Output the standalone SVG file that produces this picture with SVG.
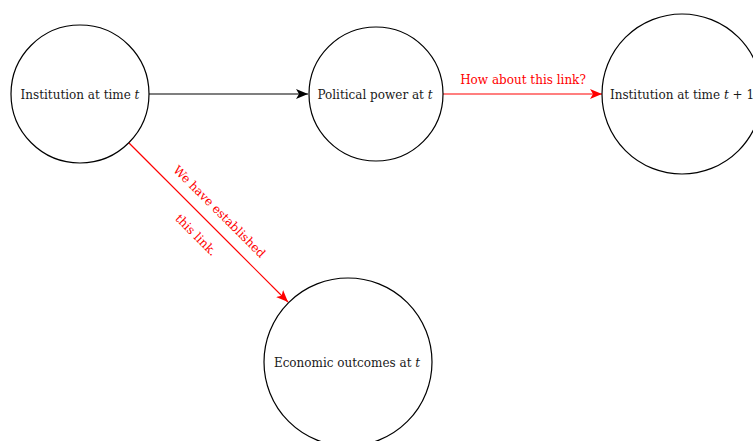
<svg xmlns="http://www.w3.org/2000/svg" width="753" height="441" viewBox="0 0 753 441">
<defs>
<marker id="ahk" viewBox="0 0 12 10" refX="12" refY="5" markerWidth="12" markerHeight="10" markerUnits="userSpaceOnUse" orient="auto">
<path d="M0,0 L12,5 L0,10 L3,5 Z" fill="#000"/>
</marker>
<marker id="ahr" viewBox="0 0 12 10" refX="12" refY="5" markerWidth="12" markerHeight="10" markerUnits="userSpaceOnUse" orient="auto">
<path d="M0,0 L12,5 L0,10 L3,5 Z" fill="#ff0000"/>
</marker>
</defs>
<style>
.node{fill:#fff;stroke:#000;stroke-width:1.2}
.lbl{font-family:"DejaVu Serif","Liberation Serif",serif;font-size:12px;fill:#1a1a1a;text-anchor:middle}
.red{font-family:"DejaVu Serif","Liberation Serif",serif;font-size:12px;fill:#ff0000;text-anchor:middle}
.it{font-style:italic}
.ek{stroke:#000;stroke-width:1.2;fill:none}
.er{stroke:#ff0000;stroke-width:1.2;fill:none}
</style>
<rect width="753" height="441" fill="#fff"/>
<g id="connectors">
<line class="ek" x1="149" y1="94" x2="308" y2="94" marker-end="url(#ahk)"/>
<line class="er" x1="443" y1="94" x2="602" y2="94" marker-end="url(#ahr)"/>
<text class="red" x="523" y="84">How about this link?</text>
<line class="er" x1="129" y1="143" x2="288" y2="302" marker-end="url(#ahr)"/>
<g transform="translate(208,223) rotate(45)">
<text class="red" x="0" y="-12">We have established</text>
<text class="red" x="0" y="21">this link.</text>
</g>
</g>
<g id="n1">
<circle class="node" cx="80" cy="94" r="69"/>
<text class="lbl" x="80" y="98.5">Institution at time <tspan class="it">t</tspan></text>
</g>
<g id="n2">
<circle class="node" cx="376" cy="94" r="67"/>
<text class="lbl" x="375" y="98.5">Political power at <tspan class="it">t</tspan></text>
</g>
<g id="n3">
<circle class="node" cx="682" cy="94" r="80"/>
<text class="lbl" x="682" y="98.5">Institution at time <tspan class="it">t</tspan> + 1</text>
</g>
<g id="n4">
<circle class="node" cx="348" cy="362" r="84"/>
<text class="lbl" x="347" y="366.5">Economic outcomes at <tspan class="it">t</tspan></text>
</g>
</svg>
